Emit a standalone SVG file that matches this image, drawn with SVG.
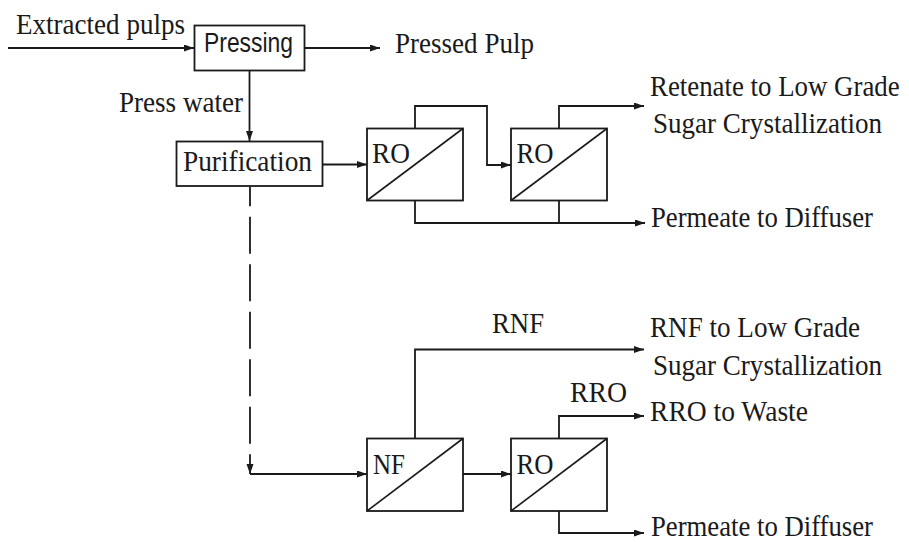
<svg xmlns="http://www.w3.org/2000/svg" width="909" height="542" viewBox="0 0 909 542">
  <style>
    .box { fill: #ffffff; stroke: #1a1a1a; stroke-width: 1.8; }
    .mem { fill: none; stroke: #1a1a1a; stroke-width: 1.6; }
    .ln { fill: none; stroke: #1a1a1a; stroke-width: 1.8; }
    .arr { marker-end: url(#ah); }
    .dash { stroke-dasharray: 37 10.5; stroke-dashoffset: 17.5; }
    text { font-family: "Liberation Serif", "Times New Roman", serif; font-size: 30px; fill: #1a1a1a; }
    .sans { font-family: "Liberation Sans", Arial, sans-serif; font-size: 27px; }
  </style>
  <defs>
    <marker id="ah" markerUnits="userSpaceOnUse" markerWidth="11" markerHeight="8" refX="10" refY="3.5" orient="auto">
      <path d="M0,0 L10,3.5 L0,7 Z" fill="#1a1a1a"/>
    </marker>
  </defs>
  <rect width="909" height="542" fill="#ffffff"/>

  <g id="connectors">
    <path class="ln arr" d="M8,48 H194"/>
    <path class="ln arr" d="M304,48 H380"/>
    <path class="ln arr" d="M249.5,70 V141"/>
    <path class="ln arr" d="M323,164.5 H367"/>
    <path class="ln arr" d="M415,128.5 V106 H487 V165 H511"/>
    <path class="ln arr" d="M559,128.5 V106 H644"/>
    <path class="ln arr" d="M415,200.5 V223 H645"/>
    <path class="ln" d="M559,200.5 V223"/>
    <path class="ln arr dash" d="M250,186.7 V474"/>
    <path class="ln arr" d="M250,474 H367"/>
    <path class="ln arr" d="M415,438.5 V349.5 H644"/>
    <path class="ln arr" d="M463,474 H511"/>
    <path class="ln arr" d="M559,438.5 V416 H644"/>
    <path class="ln arr" d="M559,511 V533 H644"/>
  </g>

  <g id="label-extracted">
    <text x="16" y="34" textLength="169" lengthAdjust="spacingAndGlyphs">Extracted pulps</text>
  </g>
  <g id="pressing">
    <rect class="box" x="194.5" y="25.5" width="110" height="45"/>
    <text class="sans" x="204" y="52" textLength="89" lengthAdjust="spacingAndGlyphs">Pressing</text>
  </g>
  <g id="label-pressed">
    <text x="395" y="53" textLength="139" lengthAdjust="spacingAndGlyphs">Pressed Pulp</text>
  </g>
  <g id="label-presswater">
    <text x="119" y="112" textLength="124" lengthAdjust="spacingAndGlyphs">Press water</text>
  </g>
  <g id="purification">
    <rect class="box" x="176.5" y="141.5" width="146" height="44.5"/>
    <text x="183" y="171" textLength="129" lengthAdjust="spacingAndGlyphs">Purification</text>
  </g>
  <g id="ro1">
    <rect class="box" x="367" y="128.5" width="96" height="72"/>
    <path class="mem" d="M367,200.5 L463,128.5"/>
    <text x="372" y="163" textLength="38" lengthAdjust="spacingAndGlyphs">RO</text>
  </g>
  <g id="ro2">
    <rect class="box" x="511" y="128.5" width="96" height="72"/>
    <path class="mem" d="M511,200.5 L607,128.5"/>
    <text x="516.5" y="163" textLength="37" lengthAdjust="spacingAndGlyphs">RO</text>
  </g>
  <g id="label-retenate">
    <text transform="translate(650 96) scale(0.895 1)" x="0" y="0">Retenate to Low Grade</text>
    <text x="653" y="133" textLength="229" lengthAdjust="spacingAndGlyphs">Sugar Crystallization</text>
  </g>
  <g id="label-permeate1">
    <text x="651" y="227" textLength="222" lengthAdjust="spacingAndGlyphs">Permeate to Diffuser</text>
  </g>
  <g id="label-rnf">
    <text x="492" y="333" textLength="52" lengthAdjust="spacingAndGlyphs">RNF</text>
  </g>
  <g id="label-rnf-out">
    <text x="650" y="337" textLength="210" lengthAdjust="spacingAndGlyphs">RNF to Low Grade</text>
    <text x="653" y="375" textLength="229" lengthAdjust="spacingAndGlyphs">Sugar Crystallization</text>
  </g>
  <g id="nf">
    <rect class="box" x="367" y="438.5" width="96" height="72.5"/>
    <path class="mem" d="M367,511 L463,438.5"/>
    <text x="373" y="474" textLength="32" lengthAdjust="spacingAndGlyphs">NF</text>
  </g>
  <g id="ro3">
    <rect class="box" x="511" y="438.5" width="96" height="72.5"/>
    <path class="mem" d="M511,511 L607,438.5"/>
    <text x="516.5" y="474" textLength="37" lengthAdjust="spacingAndGlyphs">RO</text>
  </g>
  <g id="label-rro">
    <text x="570" y="402" textLength="57" lengthAdjust="spacingAndGlyphs">RRO</text>
  </g>
  <g id="label-rro-out">
    <text x="650" y="421" textLength="158" lengthAdjust="spacingAndGlyphs">RRO to Waste</text>
  </g>
  <g id="label-permeate2">
    <text x="651" y="536" textLength="222" lengthAdjust="spacingAndGlyphs">Permeate to Diffuser</text>
  </g>
</svg>
